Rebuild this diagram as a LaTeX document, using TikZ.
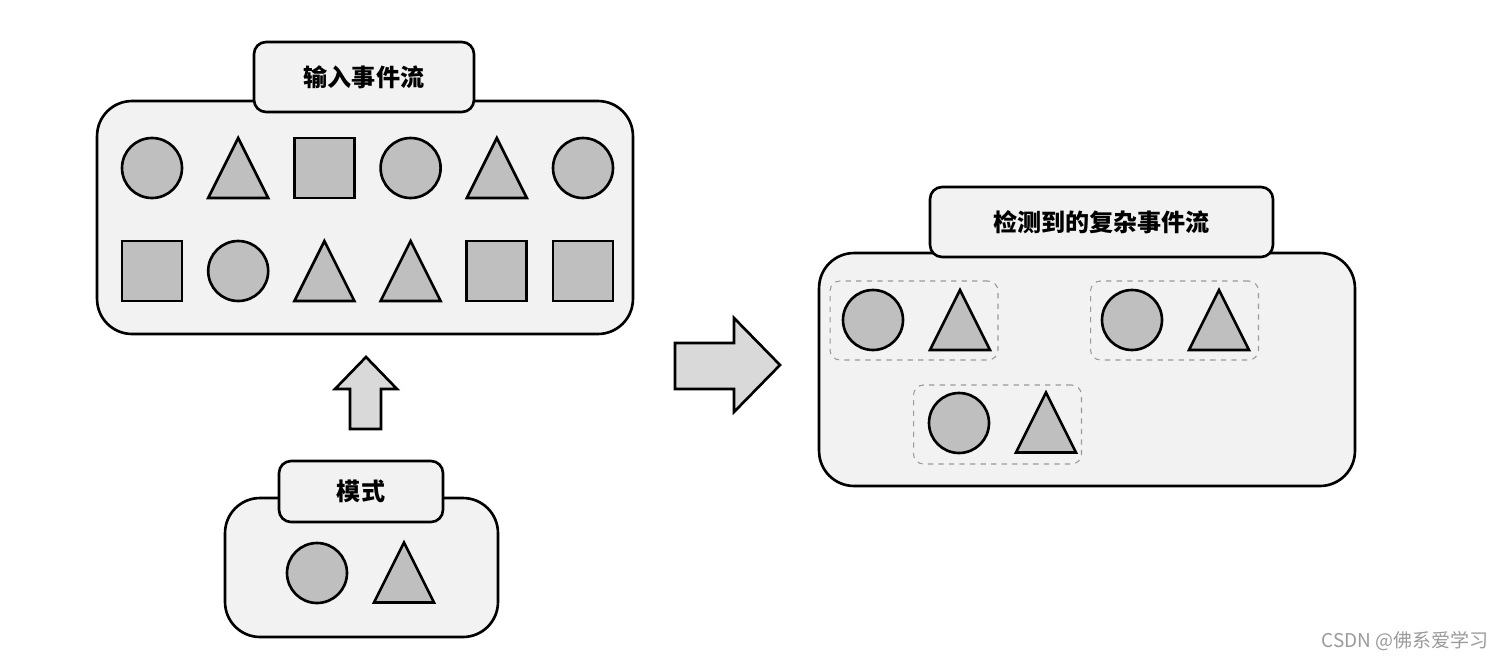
\documentclass[tikz,border=0pt]{standalone}
\usepackage{fontspec}
\newfontfamily\cjk{Noto Sans CJK SC}
\usepackage{tikz}
\usetikzlibrary{positioning}

\definecolor{boxfill}{HTML}{F2F2F2}
\definecolor{shapefill}{HTML}{BFBFBF}
\definecolor{arrowfill}{HTML}{D9D9D9}
\definecolor{dashgray}{HTML}{9A9A9A}

\begin{document}
\begin{tikzpicture}[
    x=0.02cm, y=-0.02cm,
    streambox/.style={rectangle, draw, line width=1.5pt, fill=boxfill, rounded corners=0.7cm, minimum width=10.72cm, minimum height=4.66cm},
    titlebox/.style={rectangle, draw, line width=1.5pt, fill=boxfill, rounded corners=0.24cm, minimum height=1.4cm, font=\cjk\bfseries\fontsize{13.7pt}{16pt}\selectfont},
    groupbox/.style={rectangle, draw=dashgray, dashed, line width=0.6pt, rounded corners=0.2cm, minimum width=3.36cm, minimum height=1.58cm},
    evcirc/.pic={\node[circle, draw, line width=1.5pt, fill=shapefill, minimum size=1.2cm, inner sep=0pt] (-c) {};},
    evsq/.pic={\node[rectangle, draw, line width=1.5pt, fill=shapefill, minimum size=1.2cm, inner sep=0pt] (-s) {};},
    evtri/.pic={\draw[line width=1.5pt, fill=shapefill, line join=miter] (-30,30) -- (0,-30) -- (30,30) -- cycle;},
    blockarrow/.style={draw, line width=1.5pt, fill=arrowfill, line join=miter},
]
\useasboundingbox (0,0) rectangle (1503,660);

% Input stream
\node[streambox] (inbox) at (365,217.5) {};
\node[titlebox, minimum width=4.4cm] (intitle) at (364,77) {输入事件流};
\foreach \s [count=\i] in {circ,tri,sq,circ,tri,circ}
    \pic (inA\i) at ({152+86.2*(\i-1)},168) {ev\s};
\foreach \s [count=\i] in {sq,circ,tri,tri,sq,sq}
    \pic (inB\i) at ({152+86.2*(\i-1)},271) {ev\s};

% Pattern
\node[streambox, minimum width=5.46cm, minimum height=2.78cm] (patbox) at (361.5,567.5) {};
\node[titlebox, minimum width=3.28cm, minimum height=1.22cm] (pattitle) at (361,491.5) {模式};
\pic (patA) at (317,573) {evcirc};
\pic (patB) at (404,572.5) {evtri};

% Up arrow: pattern -> input stream
\draw[blockarrow] (350,429) -- (350,389) -- (335,389) -- (366,357) -- (397,389) -- (381,389) -- (381,429) -- cycle;

% Right arrow: input stream -> result
\draw[blockarrow] (675,343) -- (734,343) -- (734,318) -- (780,365) -- (734,412) -- (734,389) -- (675,389) -- cycle;

% Detected complex events
\node[streambox] (outbox) at (1087,369.5) {};
\node[titlebox, minimum width=6.86cm] (outtitle) at (1101.5,222) {检测到的复杂事件流};
\node[groupbox] (grp1) at (914,320.5) {};
\node[groupbox] (grp2) at (1174.5,320.5) {};
\node[groupbox] (grp3) at (997.5,424.5) {};
\pic (g1A) at (873,320) {evcirc};
\pic (g1B) at (960,320) {evtri};
\pic (g2A) at (1132,320) {evcirc};
\pic (g2B) at (1219,320) {evtri};
\pic (g3A) at (959,423) {evcirc};
\pic (g3B) at (1046,422.5) {evtri};

% Watermark
\node[font=\cjk\fontsize{10.8pt}{12pt}\selectfont, text=dashgray] (mark) at (1405,641) {CSDN @佛系爱学习};
\end{tikzpicture}
\end{document}
